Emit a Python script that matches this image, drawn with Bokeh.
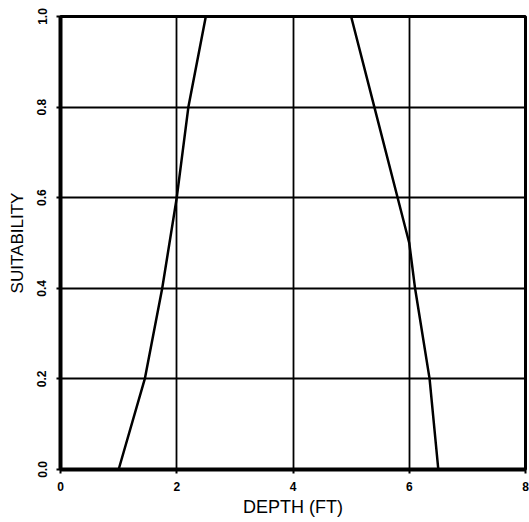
from bokeh.plotting import figure
from bokeh.models import Range1d, FixedTicker
from bokeh.embed import file_html
from bokeh.resources import INLINE

# Suitability curve (depth in feet, suitability index)
depth = [1.0, 1.45, 1.75, 2.0, 2.2, 2.35, 2.5, 5.0, 5.4, 5.8, 6.0, 6.1, 6.35, 6.5]
suitability = [0.0, 0.2, 0.4, 0.6, 0.8, 0.9, 1.0, 1.0, 0.8, 0.6, 0.5, 0.4, 0.2, 0.0]

x_ticks = [0, 2, 4, 6, 8]
y_ticks = [0.0, 0.2, 0.4, 0.6, 0.8, 1.0]
y_tick_labels = {0.0: "0.0", 0.2: "0.2", 0.4: "0.4", 0.6: "0.6", 0.8: "0.8", 1.0: "1.0"}

p = figure(width=529, height=522, output_backend="svg", toolbar_location=None,
           x_range=Range1d(0, 8), y_range=Range1d(0, 1),
           min_border_left=60, min_border_right=4, min_border_top=16, min_border_bottom=53)

p.background_fill_color = "white"
p.border_fill_color = "white"
p.outline_line_color = "black"
p.outline_line_width = 3
p.outline_line_alpha = 1

p.line(depth, suitability, line_color="black", line_width=2.5)

p.xaxis.ticker = FixedTicker(ticks=x_ticks)
p.yaxis.ticker = FixedTicker(ticks=y_ticks)
p.yaxis.major_label_overrides = y_tick_labels

for ax in (p.xaxis[0], p.yaxis[0]):
    ax.axis_line_width = 4
    ax.axis_line_color = "black"
    ax.major_tick_line_color = "black"
    ax.major_tick_line_width = 2
    ax.major_tick_out = 4
    ax.major_tick_in = 0
    ax.minor_tick_line_color = None
    ax.major_label_text_font = "Liberation Sans"
    ax.major_label_text_font_style = "bold"
    ax.major_label_text_font_size = "12px"
    ax.major_label_text_color = "black"
    ax.axis_label_text_font = "Liberation Sans"
    ax.axis_label_text_font_style = "normal"
    ax.axis_label_text_color = "black"

p.xaxis.axis_label = "DEPTH (FT)"
p.xaxis.axis_label_text_font_size = "18px"
p.xaxis.major_label_standoff = 8
p.xaxis.axis_label_standoff = 3

p.yaxis.axis_label = "SUITABILITY"
p.yaxis.axis_label_text_font_size = "17px"
p.yaxis.major_label_orientation = "vertical"
p.yaxis.major_label_standoff = 10
p.yaxis.axis_label_standoff = 8

for g in (p.xgrid[0], p.ygrid[0]):
    g.grid_line_color = "black"
    g.grid_line_width = 1.8
    g.grid_line_alpha = 1

open("out.html", "w").write(file_html(p, INLINE))
